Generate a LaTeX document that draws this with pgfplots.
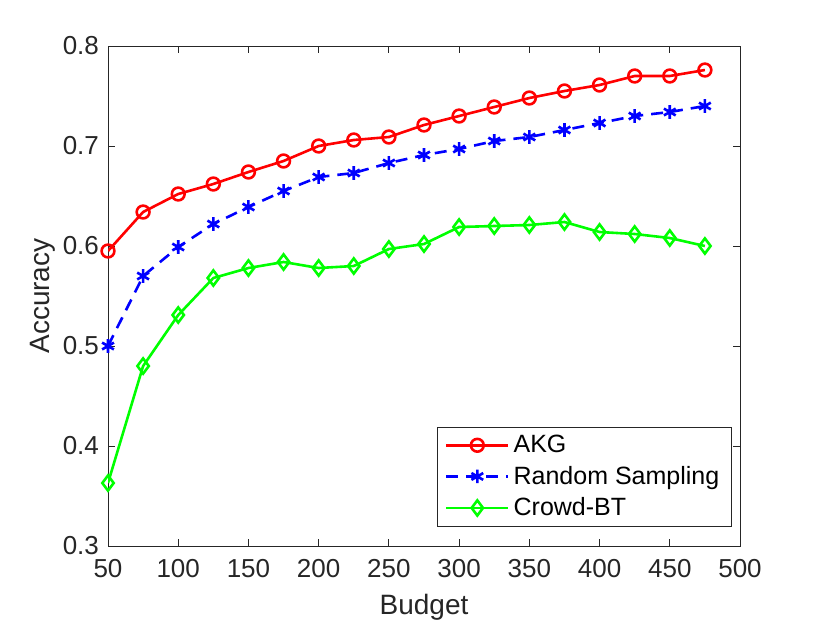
\documentclass[border=0pt]{standalone}
\usepackage{pgfplots}
\pgfplotsset{compat=1.18}
\usepackage{fontspec}
\setmainfont{Liberation Sans}
\definecolor{axgray}{RGB}{38,38,38}
\begin{document}
\begin{tikzpicture}
\begin{axis}[
  name=ax,
  at={(0,0)}, anchor=south west,
  width=316pt, height=250pt, scale only axis,
  xmin=50, xmax=500, ymin=0.3, ymax=0.8,
  xtick={50,100,...,500},
  ytick={0.3,0.4,0.5,0.6,0.7,0.8},
  yticklabels={0.3,0.4,0.5,0.6,0.7,0.8},
  tick align=inside,
  tick pos=both,
  major tick length=3.5pt,
  axis line style={axgray, line width=0.5pt},
  every tick/.style={axgray, line width=0.5pt},
  tick label style={font=\fontsize{13}{15}\selectfont, text=axgray},
  xticklabel style={yshift=-3pt},
  yticklabel style={xshift=-1pt},
  /pgf/number format/assume math mode=true,
  xlabel={Budget}, ylabel={Accuracy},
  label style={font=\fontsize{14}{16}\selectfont, text=axgray},
  xlabel style={at={(axis description cs:0.5,-0.136)}, anchor=base},
  ylabel style={at={(axis description cs:-0.093,0.5)}, anchor=base, rotate=0},
  legend style={at={(axis description cs:0.987,0.038)}, anchor=south east,
    font=\fontsize{12.5}{14}\selectfont, draw=axgray, line width=0.5pt,
    inner xsep=4pt, inner ysep=2pt, row sep=1.2pt, cells={anchor=west}},
  legend image code/.code={%
    \draw[mark repeat=2,mark phase=2,#1] plot coordinates {(0pt,0pt)(15.5pt,0pt)(31pt,0pt)};},
  every axis plot/.append style={line width=1.3pt},
]
\addplot[color={rgb,255:red,255;green,0;blue,0}, mark=o, mark size=3.2pt, mark options={solid}] coordinates {
(50,0.595)(75,0.634)(100,0.652)(125,0.662)(150,0.674)(175,0.685)(200,0.700)(225,0.706)(250,0.709)(275,0.721)(300,0.730)(325,0.739)(350,0.748)(375,0.755)(400,0.761)(425,0.770)(450,0.770)(475,0.776)};
\addlegendentry{AKG}
\addplot[color={rgb,255:red,0;green,0;blue,255}, dash pattern=on 6pt off 4pt, mark=asterisk, mark size=3.4pt, mark options={solid}] coordinates {
(50,0.500)(75,0.570)(100,0.599)(125,0.622)(150,0.639)(175,0.655)(200,0.669)(225,0.673)(250,0.683)(275,0.691)(300,0.697)(325,0.705)(350,0.709)(375,0.716)(400,0.723)(425,0.730)(450,0.734)(475,0.740)};
\addlegendentry{Random Sampling}
\addplot[color={rgb,255:red,0;green,255;blue,0}, mark=diamond, mark size=3.8pt, mark options={solid}] coordinates {
(50,0.363)(75,0.480)(100,0.531)(125,0.568)(150,0.578)(175,0.584)(200,0.578)(225,0.580)(250,0.597)(275,0.602)(300,0.619)(325,0.620)(350,0.621)(375,0.624)(400,0.614)(425,0.612)(450,0.608)(475,0.600)};
\addlegendentry{Crowd-BT}
\end{axis}
\pgfresetboundingbox
\path ([shift={(-54pt,-38.5pt)}]ax.south west) rectangle ([shift={(45pt,23pt)}]ax.north east);
\end{tikzpicture}
\end{document}
